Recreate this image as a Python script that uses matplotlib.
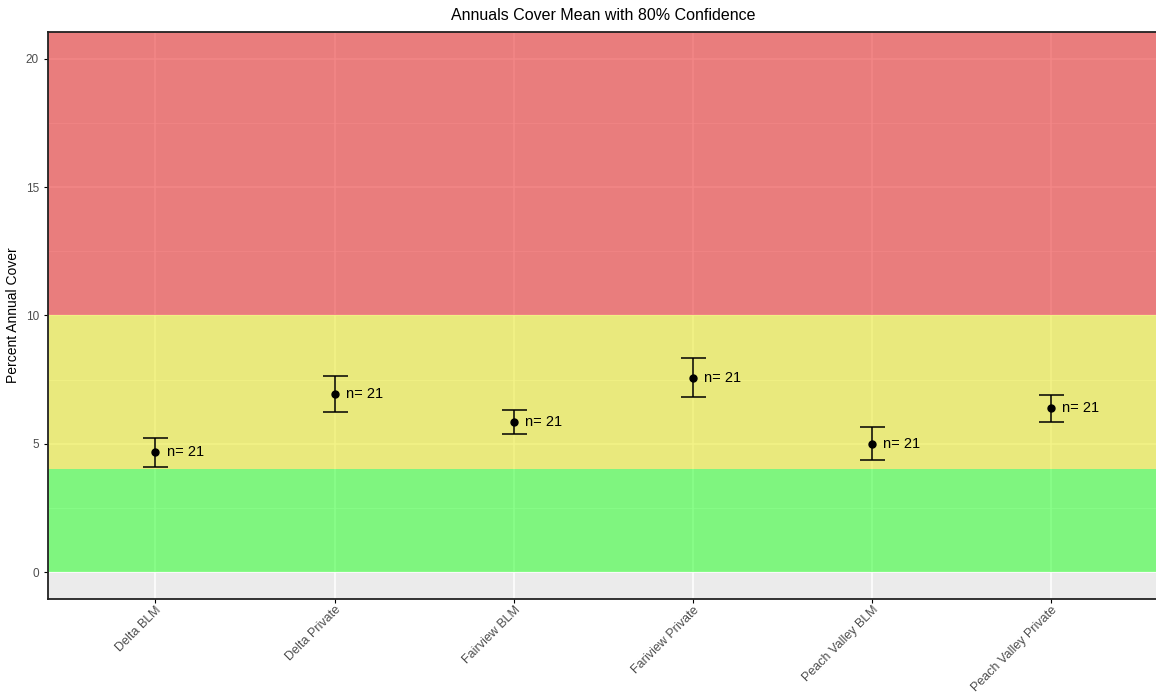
import matplotlib
matplotlib.use("Agg")
import matplotlib.pyplot as plt
import numpy as np

plt.rcParams['font.family'] = ['Liberation Sans', 'DejaVu Sans']

# site groups and annual cover mean with 80% CI bounds
sites = ["Delta BLM", "Delta Private", "Fairview BLM", "Fariview Private",
         "Peach Valley BLM", "Peach Valley Private"]
means = [4.66, 6.95, 5.84, 7.57, 5.01, 6.38]
lower = [4.08, 6.22, 5.37, 6.81, 4.38, 5.84]
upper = [5.24, 7.65, 6.32, 8.35, 5.67, 6.92]
counts = [21, 21, 21, 21, 21, 21]

# threshold bands (low, high, colour)
band_low = [0, 4, 10]
band_high = [4, 10, 21.05]
band_colors = ["#15ff15", "#e8e810", "#e81010"]

fig = plt.figure(figsize=(11.56, 6.92), dpi=100)
ax = fig.add_axes([0.0415, 0.1344, 0.961, 0.8194])
ax.set_facecolor("#EBEBEB")

x = np.arange(1, len(sites) + 1)
ax.set_xlim(0.4, len(sites) + 0.6)
ax.set_ylim(-1.05, 21.05)

# ggplot-ish grid
ax.set_yticks([0, 5, 10, 15, 20])
ax.set_yticks([2.5, 7.5, 12.5, 17.5], minor=True)
ax.grid(True, which="major", color="white", linewidth=1.1)
ax.grid(True, which="minor", axis="y", color="white", linewidth=0.5)
ax.set_axisbelow(True)

for lo, hi, c in zip(band_low, band_high, band_colors):
    ax.axhspan(lo, hi, color=c, alpha=0.5, linewidth=0, zorder=1)

yerr = [np.array(means) - np.array(lower), np.array(upper) - np.array(means)]
ax.errorbar(x, means, yerr=yerr, fmt="o", color="black", markersize=5,
            capsize=9, elinewidth=1.1, capthick=1.1, zorder=3)
for xi, m, n in zip(x, means, counts):
    ax.annotate("n= %d" % n, (xi, m), xytext=(8, 0), textcoords="offset points",
                va="center", ha="left", fontsize=10.5, color="black", zorder=4)

ax.set_xticks(x)
ax.set_xticklabels(sites, rotation=45, ha="right", rotation_mode="anchor",
                   fontsize=9, color="#4D4D4D")
ax.tick_params(axis="y", labelsize=8.5, labelcolor="#4D4D4D", length=3)
ax.tick_params(axis="x", length=3, pad=0.5)
ax.tick_params(which="minor", length=0)
for s in ax.spines.values():
    s.set_color("#222222")
    s.set_linewidth(1.3)

ax.set_ylabel("Percent Annual Cover", fontsize=10)
fig.text(0.522, 0.978, "Annuals Cover Mean with 80% Confidence", ha="center",
         va="center", fontsize=11.5)

fig.savefig("out.png", dpi=100)
